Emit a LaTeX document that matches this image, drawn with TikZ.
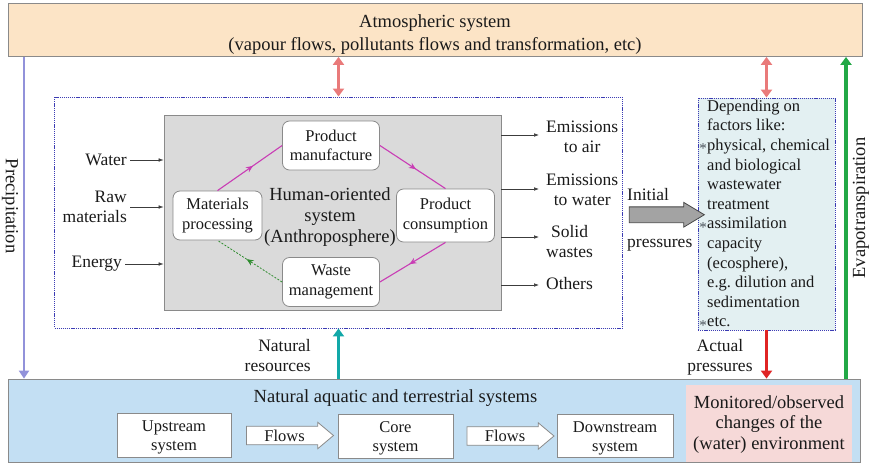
\documentclass[tikz,border=0pt]{standalone}
\usepackage{fontspec}
\setmainfont{Liberation Serif}
\usetikzlibrary{arrows.meta,shapes.arrows,decorations.markings,calc}

\definecolor{atmofill}{HTML}{FCE4C6}
\definecolor{naturefill}{HTML}{C3DFF3}
\definecolor{monfill}{HTML}{F6D9D8}
\definecolor{anthrofill}{HTML}{DADADA}
\definecolor{factfill}{HTML}{E3F0F2}
\definecolor{edgegray}{HTML}{8A8A8A}
\definecolor{framedot}{HTML}{3C3CB4}
\definecolor{precip}{HTML}{9292DA}
\definecolor{evapo}{HTML}{22A846}
\definecolor{actual}{HTML}{E02424}
\definecolor{resource}{HTML}{12A8A8}
\definecolor{exchange}{HTML}{E97A7A}
\definecolor{cycle}{HTML}{C93DB5}
\definecolor{recycle}{HTML}{2E8B2E}
\definecolor{blockgray}{HTML}{A3A3A3}
\definecolor{ink}{HTML}{1A1A1A}
\definecolor{bullet}{HTML}{4A525A}

% hanging bullet for the list of factors
\newcommand\factorbullet{\makebox[0pt][r]{\color{bullet}\fontsize{15}{15}\selectfont\raisebox{-0.45ex}{*}\hspace{0.3pt}}}

\begin{document}
\begin{tikzpicture}[x=1pt,y=-1pt,
  big/.style={font=\fontsize{18.5}{22}\selectfont},
  mid/.style={font=\fontsize{17.5}{20}\selectfont},
  small/.style={font=\fontsize{16.5}{19.6}\selectfont},
  panel/.style={draw=edgegray, line width=0.8pt, inner sep=0pt},
  dotframe/.style={draw=framedot, line width=0.9pt, dash pattern=on 1.2pt off 0.9pt},
  stagebox/.style={draw=edgegray, line width=0.8pt, fill=white, rounded corners=7pt,
    small, align=center, inner sep=0pt, text=ink},
  sysbox/.style={draw=edgegray, line width=0.8pt, fill=white, inner sep=0pt},
  systext/.style={font=\fontsize{16.5}{18.5}\selectfont, align=center, inner sep=0pt, text=ink},
  lab/.style={mid, align=center, inner sep=1pt, text=ink},
  thinarrow/.style={draw=ink!85, line width=0.6pt, -{Latex[length=5pt,width=3.6pt]}},
  bigarrow/.style={line width=3.2pt, {Triangle[length=8pt,width=11pt]}-{Triangle[length=8pt,width=11pt]}},
  onearrow/.style={line width=3.2pt, -{Triangle[length=8pt,width=11pt]}},
  midtip/.style={postaction={decorate}, decoration={markings,
    mark=at position 0.55 with {\arrow{Stealth[length=7pt,width=6pt]}}}},
  blockarrow/.style={single arrow, draw=edgegray, line width=0.8pt, fill=white, inner xsep=1pt, text=ink}
]
\useasboundingbox (0,0) rectangle (872,466);

% outer systems
\node[panel, fill=atmofill, minimum width=854, minimum height=53] (atmo) at (435,30) {};
\node[big, anchor=base, inner sep=0pt, text=ink] (atmotitle) at (435,27.5) {Atmospheric system};
\node[big, anchor=base, inner sep=0pt, text=ink] (atmosub) at (435,50)
  {(vapour flows, pollutants flows and transformation, etc)};

\node[panel, fill=naturefill, minimum width=852, minimum height=83] (nature) at (434,420.5) {};
\node[big, anchor=base, inner sep=0pt, text=ink] (naturetitle) at (395.5,402)
  {Natural aquatic and terrestrial systems};
\node[fill=monfill, minimum width=166, minimum height=77, inner sep=0pt] (monitored) at (769,423) {};
\node[font=\fontsize{18.5}{20.5}\selectfont, align=center, inner sep=0pt, text=ink] (montext)
  at (769,424.5) {Monitored/observed\\changes of the\\(water) environment};

% river stretch
\node[sysbox, minimum width=114, minimum height=44] (up) at (174,435) {};
\node[sysbox, minimum width=115, minimum height=44] (core) at (395.5,436) {};
\node[sysbox, minimum width=116, minimum height=43] (down) at (615,436) {};
\node[systext] (uptext) at ([yshift=-2.5pt]up.center) {Upstream\\system};
\node[systext] (coretext) at ([yshift=-2.5pt]core.center) {Core\\system};
\node[systext] (downtext) at ([yshift=-2.5pt]down.center) {Downstream\\system};
\node[blockarrow, small, minimum height=87, single arrow head extend=4pt,
      single arrow tip angle=80, inner ysep=3pt] (flow1)
  at ($(up.east)!0.5!(core.west)$) {Flows};
\node[blockarrow, small, minimum height=87, single arrow head extend=4pt,
      single arrow tip angle=80, inner ysep=3pt] (flow2)
  at ($(core.east)!0.5!(down.west)$) {Flows};

% anthroposphere
\node[dotframe, minimum width=568, minimum height=231] (frame) at (338.5,212.5) {};
\node[draw=edgegray, line width=0.8pt, fill=anthrofill, minimum width=337, minimum height=195] (anthro) at (332.5,212.5) {};
\node[font=\fontsize{18.5}{21.3}\selectfont, align=center, inner sep=0pt, text=ink] (human) at (330,217)
  {Human-oriented\\system\\(Anthroposphere)};
\node[stagebox, minimum width=89, minimum height=49] (matproc) at (217.5,215.5) {Materials\\processing};
\node[stagebox, minimum width=97, minimum height=49] (manuf) at (331,145.5) {Product\\manufacture};
\node[stagebox, minimum width=98, minimum height=53] (consum) at (445.5,215.5) {Product\\consumption};
\node[stagebox, minimum width=97, minimum height=49] (waste) at (331,282) {Waste\\management};

\draw[cycle, line width=1.1pt, midtip] (matproc.north) -- (manuf.west);
\draw[cycle, line width=1.1pt, midtip] (manuf.east) -- (consum.north);
\draw[cycle, line width=1.1pt, midtip] (consum.south) -- (waste.east);
\draw[recycle, line width=0.8pt, dash pattern=on 2pt off 1.5pt, midtip] (waste.west) -- (matproc.south);

% inputs
\node[lab, anchor=east] (water) at (128,160) {Water};
\node[lab, anchor=east, align=right] (raw) at (128,207) {Raw\\materials};
\node[lab, anchor=east] (energy) at (123,264) {Energy};
\draw[thinarrow, shorten <=2pt] (water.east) -- (water.east -| anthro.west);
\draw[thinarrow, shorten <=2pt] (raw.east) -- (raw.east -| anthro.west);
\draw[thinarrow, shorten <=2pt] (energy.east) -- (energy.east -| anthro.west);

% outputs
\node[lab, anchor=west] (air) at (545,137) {Emissions\\to air};
\node[lab, anchor=west] (wat) at (545,190) {Emissions\\to water};
\node[lab, anchor=west] (solid) at (545,242) {Solid\\wastes};
\node[lab, anchor=west] (others) at (545,284) {Others};
\coordinate (airin) at ([yshift=2pt]air.west);
\coordinate (watin) at ([yshift=1pt]wat.west);
\coordinate (solidin) at ([yshift=5pt]solid.west);
\coordinate (othersin) at ([yshift=-1pt]others.west);
\foreach \c in {airin,watin,solidin,othersin}
  \draw[thinarrow, shorten >=6pt] (anthro.east |- \c) -- (\c);

% factors acting on the initial pressures
\node[dotframe, fill=factfill, minimum width=137, minimum height=232, inner sep=0pt] (factors) at (766.5,214) {};
\node[anchor=west, align=left, inner sep=0pt, font=\fontsize{16.5}{19.6}\selectfont, text=ink] (factortext)
  at (707,215)
  {Depending on\\factors like:\\\factorbullet physical, chemical\\and biological\\wastewater\\treatment\\
   \factorbullet assimilation\\capacity\\(ecosphere),\\e.g.\ dilution and\\sedimentation\\\factorbullet etc.};

\node[single arrow, draw=ink!80, line width=0.8pt, fill=blockgray, minimum height=75,
      inner xsep=0pt, inner ysep=7.5pt, single arrow head extend=4.5pt,
      single arrow tip angle=62] (initial)
  at ($(frame.east)!0.5!(factors.west)+(0,1.5)$) {};
\node[lab, anchor=base west, inner sep=0pt] (initlab) at (627,200) {Initial};
\node[lab, anchor=base west, inner sep=0pt] (preslab) at (627,247) {pressures};

% exchanges with the atmosphere and the natural systems
\draw[exchange, bigarrow] (frame.north |- atmo.south) -- (frame.north);
\draw[exchange, bigarrow] (factors.north |- atmo.south) -- (factors.north);
\draw[resource, onearrow] (frame.south |- nature.north) -- (frame.south);
\draw[actual, onearrow] (factors.south) -- (factors.south |- nature.north);

\coordinate (precipx) at (24,0);
\coordinate (evapox) at (846,0);
\draw[precip, line width=2.6pt, -{Triangle[length=8pt,width=10pt]}]
  (atmo.south -| precipx) -- (nature.north -| precipx);
\draw[evapo, onearrow] (nature.north -| evapox) -- (atmo.south -| evapox);

\node[lab, anchor=east, align=right] (reslab) at (312,356) {Natural\\resources};
\node[lab] (actlab) at (720,357) {Actual\\pressures};
\node[lab, font=\fontsize{18.5}{20}\selectfont, rotate=-90] (preclab) at (10,206) {Precipitation};
\node[lab, font=\fontsize{18.5}{20}\selectfont, rotate=90] (evaplab) at (861,208) {Evapotranspiration};
\end{tikzpicture}
\end{document}
